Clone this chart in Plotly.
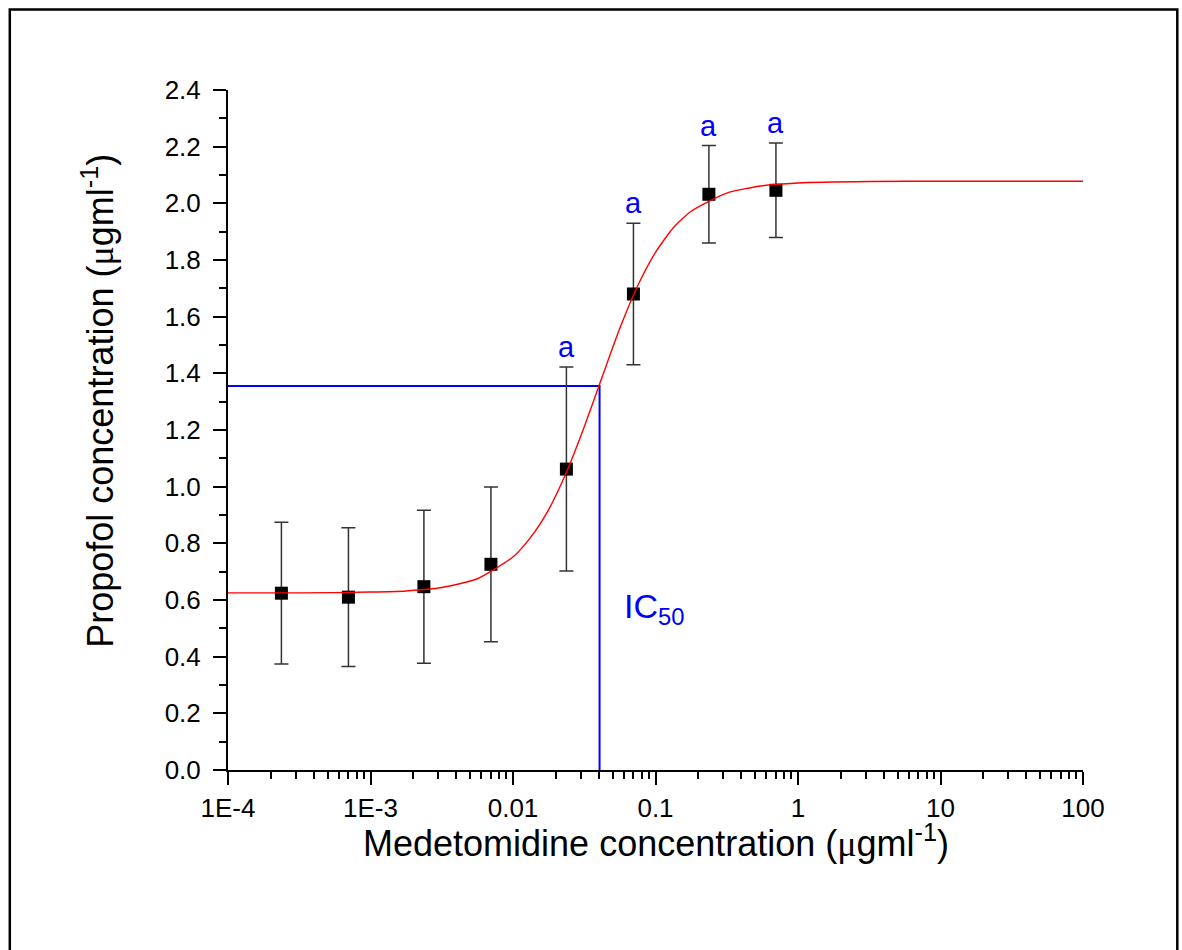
import numpy as np
import plotly.graph_objects as go

# ---- data ----
conc = [0.000237, 0.0007, 0.00237, 0.007, 0.0237, 0.07, 0.237, 0.7]
propofol = [0.624, 0.610, 0.647, 0.726, 1.062, 1.680, 2.032, 2.046]
err = [0.250, 0.245, 0.270, 0.273, 0.360, 0.250, 0.172, 0.167]
signif = ["", "", "", "", "a", "a", "a", "a"]

# fitted curve
fit_x = [1e-4, 3.16e-4, 1e-3, 1.78e-3, 3.16e-3, 5.62e-3, 0.01, 0.0133, 0.0178, 0.0237,
         0.0316, 0.0422, 0.0562, 0.075, 0.1, 0.133, 0.178, 0.316, 0.562, 1.0, 3.16, 10, 100]
fit_y = [0.625, 0.625, 0.628, 0.632, 0.644, 0.675, 0.752, 0.821, 0.919, 1.051,
         1.211, 1.387, 1.559, 1.709, 1.827, 1.913, 1.972, 2.036, 2.062, 2.072, 2.077, 2.078, 2.078]

ic50_x = 0.0405
ic50_y = 1.355

xtick_vals = [1e-4, 1e-3, 0.01, 0.1, 1, 10, 100]
xtick_text = ["1E-4", "1E-3", "0.01", "0.1", "1", "10", "100"]

FONT = "Liberation Sans, Arial, sans-serif"
MU = "<span style=\"font-family:'Liberation Serif', serif\">μ</span>"

fig = go.Figure()

# IC50 guide lines
fig.add_trace(go.Scatter(
    x=[xtick_vals[0], ic50_x, ic50_x], y=[ic50_y, ic50_y, 0],
    mode="lines", line=dict(color="#0000FF", width=2), hoverinfo="skip", showlegend=False))

# data points with error bars
fig.add_trace(go.Scatter(
    x=conc, y=propofol, mode="markers",
    marker=dict(symbol="square", size=13, color="black"),
    error_y=dict(type="data", array=err, visible=True, color="#333333", thickness=1.5, width=7),
    showlegend=False))

# fitted curve
fig.add_trace(go.Scatter(
    x=fit_x, y=fit_y, mode="lines", line=dict(color="#FF0000", width=1.4, shape="spline", smoothing=0.6),
    hoverinfo="skip", showlegend=False))

# "a" significance labels
for cx, cy, e, s in zip(conc, propofol, err, signif):
    if s:
        fig.add_annotation(x=np.log10(cx), y=cy + e, text=s, showarrow=False,
                           xref="x", yref="y", yanchor="bottom", yshift=2,
                           font=dict(family=FONT, size=29, color="#0000FF"))

# IC50 label
fig.add_annotation(x=np.log10(ic50_x), y=0.57, text="IC<sub>50</sub>", showarrow=False,
                   xref="x", yref="y", xanchor="left", yanchor="middle", xshift=22,
                   font=dict(family=FONT, size=34, color="#0000FF"))

# axis titles
fig.add_annotation(x=0.5, y=-0.104, xref="paper", yref="paper", showarrow=False,
                   text="Medetomidine concentration (" + MU + "gml<sup>-1</sup>)",
                   xanchor="center", yanchor="middle",
                   font=dict(family=FONT, size=36, color="black"))
fig.add_annotation(x=-0.152, y=0.543, xref="paper", yref="paper", showarrow=False,
                   text="Propofol concentration (" + MU + "gml<sup>-1</sup>)",
                   textangle=-90, xanchor="center", yanchor="middle",
                   font=dict(family=FONT, size=36, color="black"))

minor_x = [m * 10.0 ** d for d in range(-4, 2) for m in range(2, 10)]

fig.update_xaxes(
    type="log", range=[-4, 2], showgrid=False, zeroline=False,
    showline=True, linecolor="black", linewidth=2,
    ticks="outside", ticklen=13, tickwidth=2, tickcolor="black",
    tickvals=xtick_vals, ticktext=xtick_text, ticklabelstandoff=1,
    tickfont=dict(family=FONT, size=26, color="black"),
    minor=dict(tickvals=minor_x, ticks="outside", ticklen=7, tickwidth=2, tickcolor="black", showgrid=False),
)
fig.update_yaxes(
    range=[0, 2.4], showgrid=False, zeroline=False,
    showline=True, linecolor="black", linewidth=2,
    ticks="outside", ticklen=13, tickwidth=2, tickcolor="black",
    tick0=0, dtick=0.2, tickformat=".1f", ticklabelstandoff=7,
    tickfont=dict(family=FONT, size=26, color="black"),
    minor=dict(dtick=0.1, ticks="outside", ticklen=7, tickwidth=2, tickcolor="black", showgrid=False),
)

# outer frame
fig.add_shape(type="rect", xref="paper", yref="paper",
              x0=(9.5 - 227.7) / 855, x1=(1177 - 227.7) / 855,
              y0=(770 - 990) / 680, y1=(770 - 9.5) / 680,
              line=dict(color="black", width=2.5), layer="below")

fig.update_layout(
    width=1182, height=950, autosize=False,
    margin=dict(l=228, r=99, t=90, b=180),
    plot_bgcolor="white", paper_bgcolor="white",
    font=dict(family=FONT, color="black"),
    showlegend=False,
)

fig.write_html("out.html")
